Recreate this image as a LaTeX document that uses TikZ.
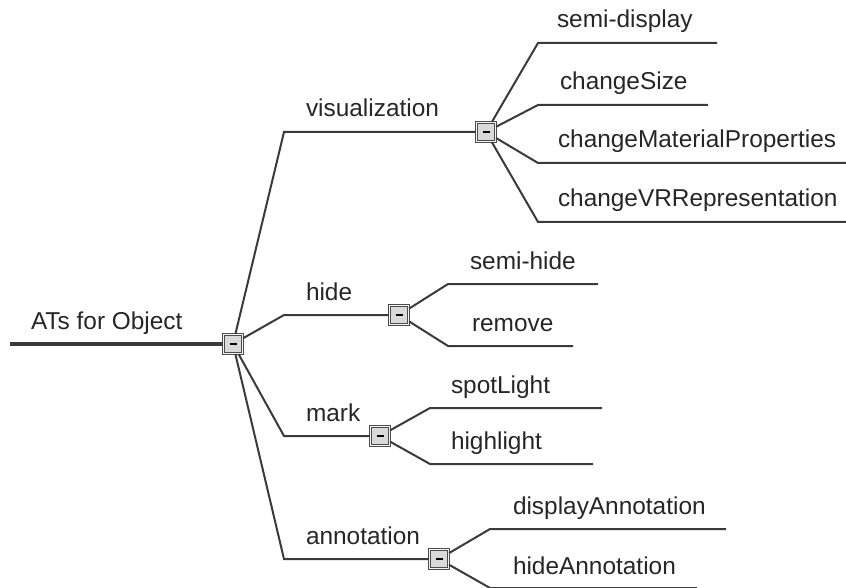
\documentclass[tikz,border=0pt]{standalone}
\usepackage{fontspec}
\setmainfont{Liberation Sans}
\usepackage{tikz}
\usepackage{xcolor}
\definecolor{branch}{HTML}{3A3A3A}
\definecolor{labeltext}{HTML}{262626}

\begin{document}
\begin{tikzpicture}[x=1bp,y=-1bp,line width=2bp,draw=branch,
    toggle/.style={draw=gray!60!black,fill=gray!30,line width=1.3bp,minimum size=19bp,inner sep=0pt,
        double=gray!8,double distance=1.2bp},
    lbl/.style={anchor=base west,inner sep=0pt,text=labeltext,font=\fontsize{24.5}{28}\selectfont}]
    \useasboundingbox (0,0) rectangle (846,588);
    % toggles
    \node[toggle] (root) at (233,344) {\rule{7bp}{2bp}};
    \node[toggle] (vis) at (486,132) {\rule{7bp}{2bp}};
    \node[toggle] (hide) at (399,315) {\rule{7bp}{2bp}};
    \node[toggle] (mark) at (380,436) {\rule{7bp}{2bp}};
    \node[toggle] (anno) at (439,559) {\rule{7bp}{2bp}};
    % root
    \coordinate (start) at (10,344);
    \draw[line width=4bp] (start) -- (root);
    \node[lbl] (rootlbl) at (30,329) {ATs for Object};
    % first level
    \coordinate (visc) at (284,132);
    \coordinate (hidec) at (284,315);
    \coordinate (markc) at (284,436);
    \coordinate (annoc) at (284,559);
    \draw (root) -- (visc) -- (vis);
    \draw (root) -- (hidec) -- (hide);
    \draw (root) -- (markc) -- (mark);
    \draw (root) -- (annoc) -- (anno);
    \node[lbl] (vislbl) at (305,117) {visualization};
    \node[lbl] (hidelbl) at (305,300) {hide};
    \node[lbl] (marklbl) at (305,421) {mark};
    \node[lbl] (annolbl) at (305,544) {annotation};
    % visualization
    \draw (vis) -- (538,43) coordinate (sdc) -- (717,43) coordinate (sde);
    \draw (vis) -- (538,105) coordinate (csc) -- (708,105) coordinate (cse);
    \draw (vis) -- (538,163) coordinate (cmpc) -- (846,163) coordinate (cmpe);
    \draw (vis) -- (538,222) coordinate (cvrc) -- (846,222) coordinate (cvre);
    \node[lbl] (sdlbl) at (556,28) {semi-display};
    \node[lbl] (cslbl) at (559,90) {changeSize};
    \node[lbl] (cmplbl) at (557,148) {changeMaterialProperties};
    \node[lbl] (cvrlbl) at (557,207) {changeVRRepresentation};
    % hide
    \draw (hide) -- (448,284) coordinate (shc) -- (598,284) coordinate (she);
    \draw (hide) -- (448,346) coordinate (rmc) -- (573,346) coordinate (rme);
    \node[lbl] (shlbl) at (469,269) {semi-hide};
    \node[lbl] (rmlbl) at (471,331) {remove};
    % mark
    \draw (mark) -- (430,408) coordinate (slc) -- (602,408) coordinate (sle);
    \draw (mark) -- (430,464) coordinate (hlc) -- (593,464) coordinate (hle);
    \node[lbl] (sllbl) at (450,393) {spotLight};
    \node[lbl] (hllbl) at (450,449) {highlight};
    % annotation
    \draw (anno) -- (490,529) coordinate (dac) -- (726,529) coordinate (dae);
    \draw (anno) -- (490,588) coordinate (hac) -- (697,588) coordinate (hae);
    \node[lbl] (dalbl) at (512,514) {displayAnnotation};
    \node[lbl] (halbl) at (512,574) {hideAnnotation};
\end{tikzpicture}
\end{document}
